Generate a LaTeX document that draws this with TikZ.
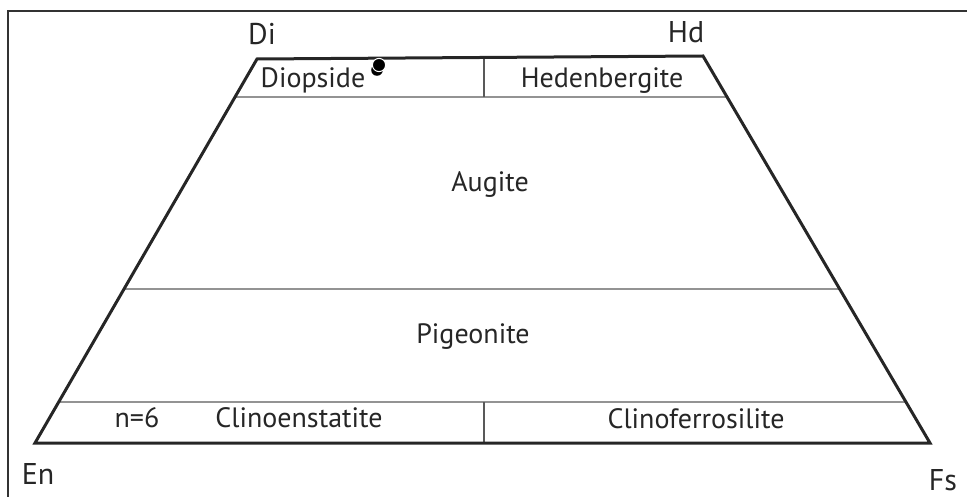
\documentclass[tikz,border=0pt]{standalone}
\usepackage{fontspec}
\setmainfont{PT Sans}
\usetikzlibrary{calc}
\begin{document}
\begin{tikzpicture}[x=1pt,y=-1pt,
  field/.style={font=\fontsize{28}{32}\selectfont, inner sep=0pt, anchor=base, text=black!85},
  corner/.style={font=\fontsize{30}{34}\selectfont, inner sep=0pt, anchor=base, text=black!85},
  outline/.style={line width=3pt, line join=miter, black!85},
  divider/.style={line width=1.3pt, black!65}]
\useasboundingbox (0,0) rectangle (967,497);
% frame
\draw[line width=2pt, black!80] (8,497) -- (8,11) -- (967,11);
% quadrilateral corners
\coordinate (di) at (257,59);
\coordinate (hd) at (703,56);
\coordinate (en) at (35,443);
\coordinate (fs) at (930,443);
% boundaries between fields
\coordinate (a1) at ($(di)!0.099!(en)$);
\coordinate (a2) at ($(hd)!0.106!(fs)$);
\coordinate (p1) at ($(di)!0.599!(en)$);
\coordinate (p2) at ($(hd)!0.602!(fs)$);
\coordinate (c1) at ($(di)!0.893!(en)$);
\coordinate (c2) at ($(hd)!0.894!(fs)$);
\draw[divider] (a1) -- (a2);
\draw[divider] (p1) -- (p2);
\draw[divider] (c1) -- (c2);
\coordinate (t1) at (484,58);
\coordinate (t2) at (484,97);
\coordinate (b1) at (484,402);
\coordinate (b2) at (484,443);
\draw[divider] (t1) -- (t2);
\draw[divider] (b1) -- (b2);
\draw[outline] (di) -- (hd) -- (fs) -- (en) -- cycle;
% data points
\fill[black] (377,70) circle (5.8);
\draw[white, line width=1pt, fill=black] (379,65) circle (6.6);
% field names
\node[field] (diop) at (313,88) {Diopside};
\node[field] (hed) at (602,88) {Hedenbergite};
\node[field] (aug) at (490,192) {Augite};
\node[field] (pig) at (473,343) {Pigeonite};
\node[field] (n6) at (137,427) {n=6};
\node[field] (cen) at (299,427) {Clinoenstatite};
\node[field] (cfs) at (696,428) {Clinoferrosilite};
% end members
\node[corner] (ldi) at (262,45) {Di};
\node[corner] (lhd) at (686,43) {Hd};
\node[corner] (len) at (38,484) {En};
\node[corner] (lfs) at (943,490) {Fs};
\end{tikzpicture}
\end{document}
